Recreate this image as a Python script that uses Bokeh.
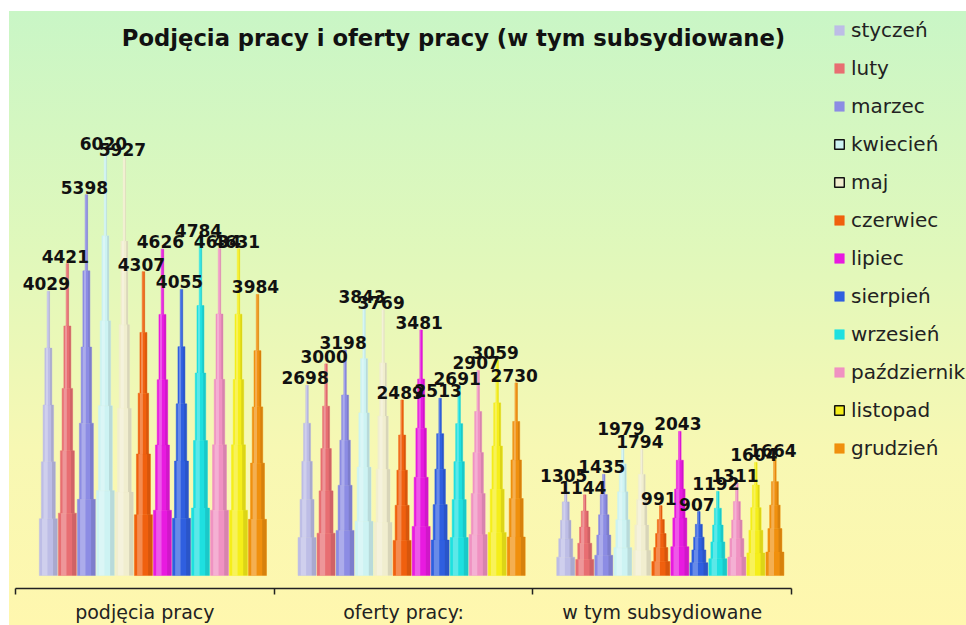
from bokeh.plotting import figure
from bokeh.models import (ColumnDataSource, Range1d, LinearAxis, FixedTicker,
                          Legend, LegendItem, Label)
from bokeh.core.properties import value
from bokeh.embed import file_html
from bokeh.resources import INLINE

title_text = "Podjęcia pracy i oferty pracy (w tym subsydiowane)"
groups = ["podjęcia pracy", "oferty pracy:", "w tym subsydiowane"]
months = ["styczeń", "luty", "marzec", "kwiecień", "maj", "czerwiec",
          "lipiec", "sierpień", "wrzesień", "październik", "listopad", "grudzień"]
podjecia_pracy = [4029, 4421, 5398, 6020, 5927, 4307, 4626, 4055, 4784, 4634, 4631, 3984]
oferty_pracy = [2698, 3000, 3198, 3843, 3769, 2489, 3481, 2513, 2691, 2907, 3059, 2730]
subsydiowane = [1305, 1144, 1435, 1979, 1794, 991, 2043, 907, 1192, 1311, 1604, 1664]
series = [podjecia_pracy, oferty_pracy, subsydiowane]

colors = ["#BDBDE6", "#E86E72", "#8C8CE4", "#CDF3F3", "#F1EECF", "#F0600E",
          "#E81AE0", "#2F5FE0", "#1EE0E0", "#F092C2", "#F5EE1A", "#F0900E"]
legend_border = [False, False, False, True, True, False, False, False, False, False, True, False]

W, H = 966, 625
AXIS_Y = 590          # pixel row of the category axis line
BASE_Y = 577          # pixel row of the bar bottoms
PX_X = 258.7          # pixels per group
PX_Y = 0.0708         # pixels per unit of value
X0_PX = 15            # pixel column of the axis start

x_first = 0.127       # first bar centre inside a group
dx = 0.0735           # spacing between bars
seg_w_px = [18, 14, 10.5, 7, 2.5]
nseg = len(seg_w_px)

x_start = -X0_PX / PX_X
y_top = BASE_Y / PX_Y
y_bot = -(AXIS_Y - BASE_Y) / PX_Y

p = figure(width=W, height=H, x_range=Range1d(x_start, x_start + W / PX_X),
           y_range=Range1d(y_bot, y_top), x_axis_type=None, y_axis_type=None,
           toolbar_location=None, output_backend="svg",
           min_border=0, min_border_left=0, min_border_right=0,
           min_border_top=0, min_border_bottom=0)
p.background_fill_alpha = 0
p.border_fill_alpha = 0
p.outline_line_color = None
p.styles = {"background": (
    "linear-gradient(to right, #FFFFFF 0px, #FFFFFF 9px, rgba(255,255,255,0) 9px), "
    "linear-gradient(to bottom, #FFFFFF 0px, #FFFFFF 11px, #C9F6C6 11px, #E0F8BB 40%, "
    "#F7F8B3 72%, #FFF7AE 100%)")}

legend_items = []
for m, month in enumerate(months):
    xs, bots, tops, ws = [], [], [], []
    hx, hw, sx, sw = [], [], [], []
    for g, vals in enumerate(series):
        v = vals[m]
        xc = g + x_first + m * dx
        for k in range(nseg):
            w = seg_w_px[k] / PX_X
            xs.append(xc)
            bots.append(v * k / nseg)
            tops.append(v * (k + 1) / nseg)
            ws.append(w)
            hx.append(xc - 0.2 * w)
            hw.append(0.3 * w)
            sx.append(xc + 0.38 * w)
            sw.append(0.24 * w)
    src = ColumnDataSource(dict(x=xs, bottom=bots, top=tops, w=ws, hx=hx, hw=hw, sx=sx, sw=sw))
    p.vbar(x="x", bottom="bottom", top="top", width="w", source=src,
           fill_color=colors[m], line_color=colors[m], line_width=0.5)
    p.vbar(x="hx", bottom="bottom", top="top", width="hw", source=src,
           fill_color="white", fill_alpha=0.28, line_alpha=0)
    p.vbar(x="sx", bottom="bottom", top="top", width="sw", source=src,
           fill_color="black", fill_alpha=0.10, line_alpha=0)
    nan = float("nan")
    dummy = p.vbar(x=[nan], top=[nan], width=0.01, fill_color=colors[m],
                   line_color="#111111" if legend_border[m] else colors[m],
                   line_width=1.5 if legend_border[m] else 0.5)
    legend_items.append(LegendItem(label=month, renderers=[dummy]))

# value labels
lx, ly, lt = [], [], []
for g, vals in enumerate(series):
    for m, v in enumerate(vals):
        lx.append(g + x_first + m * dx)
        ly.append(v)
        lt.append(str(v))
p.text(x=lx, y=ly, text=lt, text_align="center", text_baseline="bottom",
       x_offset=-2, y_offset=-1, text_font=value("DejaVu Sans"),
       text_font_style="bold", text_font_size="17px", text_color="#111111")

# axis
ax = LinearAxis(ticker=FixedTicker(ticks=[0.5, 1.5, 2.5], minor_ticks=[0, 1, 2, 3]),
                major_label_overrides={0.5: groups[0], 1.5: groups[1], 2.5: groups[2]},
                bounds=(0, 3))
ax.major_tick_in = 0
ax.major_tick_out = 0
ax.minor_tick_in = 0
ax.minor_tick_out = 6
ax.minor_tick_line_color = "#222222"
ax.minor_tick_line_width = 1.5
ax.axis_line_color = "#222222"
ax.axis_line_width = 1.5
ax.major_label_standoff = 6
ax.major_label_text_font = "DejaVu Sans"
ax.major_label_text_font_size = "19px"
ax.major_label_text_color = "#222222"
p.add_layout(ax, "below")

legend = Legend(items=legend_items, location=(833, 128),
                glyph_width=12, glyph_height=12, label_height=24, spacing=14,
                padding=0, margin=0, label_standoff=6,
                label_text_font="DejaVu Sans", label_text_font_size="20px",
                label_text_color="#222222",
                border_line_alpha=0, background_fill_alpha=0)
p.add_layout(legend)

title = Label(x=(453 - X0_PX) / PX_X, y=(BASE_Y - 38) / PX_Y, text=title_text,
              text_align="center", text_baseline="middle",
              text_font="DejaVu Sans", text_font_style="bold",
              text_font_size="22.7px", text_color="#111111")
p.add_layout(title)

open("out.html", "w").write(file_html(p, INLINE))
